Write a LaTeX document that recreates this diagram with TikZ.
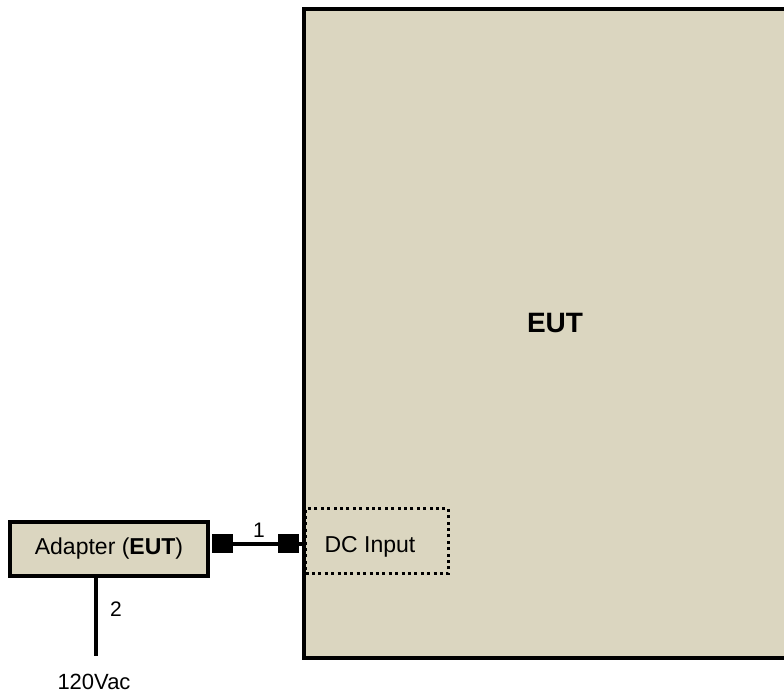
\documentclass[tikz,border=0pt]{standalone}
\usepackage{fontspec}
\setmainfont{Liberation Sans}
\definecolor{boxfill}{RGB}{219,214,192}
\begin{document}
\begin{tikzpicture}[x=1pt,y=-1pt,
  box/.style={draw=black, fill=boxfill, line width=4pt, rectangle, inner sep=0pt, outer sep=0pt},
  plug/.style={fill=black, draw=none, rectangle, inner sep=0pt, outer sep=0pt, minimum width=21pt, minimum height=19pt},
  wire/.style={line width=4pt, draw=black},
  lbl/.style={inner sep=0pt, anchor=base, font=\fontsize{21}{25}\selectfont},
  txt/.style={inner sep=0pt, anchor=base, font=\fontsize{23}{27}\selectfont}]
\clip (0,0) rectangle (784,695);
\fill[white] (0,0) rectangle (784,695);
% EUT box
\node[box, anchor=north west, minimum width=500pt, minimum height=649pt] (eut) at (304,9) {};
\node[inner sep=0pt, anchor=base, font=\fontsize{28}{32}\selectfont\bfseries] (eutlbl) at (555,332) {EUT};
% DC input dotted region
\node[draw=black, line width=3pt, dash pattern=on 3pt off 3.4pt, rectangle, inner sep=0pt, anchor=north west, minimum width=143pt, minimum height=65pt] (dcin) at (304,507) {};
\node[txt] (dclbl) at (370,552) {DC Input};
% Adapter
\node[box, anchor=north west, minimum width=198pt, minimum height=54pt] (adapter) at (10,522) {};
\node[txt] (adlbl) at (109,554) {Adapter (\textbf{EUT})};
% plugs
\node[plug] (p1) at (222.5,543.5) {};
\node[plug] (p2) at (288,543.5) {};
\draw[wire] (p1.east) -- (p2.west);
\draw[wire] (p2.east) -- (p2.east -| eut.west);
\node[lbl] (one) at (259,537) {1};
% AC line
\coordinate (acend) at (96,656);
\draw[wire] (acend |- adapter.south) -- (acend);
\node[lbl] (two) at (116,616) {2};
\node[inner sep=0pt, anchor=base, font=\fontsize{22}{26}\selectfont] (vac) at (94,689) {120Vac};
\end{tikzpicture}
\end{document}
